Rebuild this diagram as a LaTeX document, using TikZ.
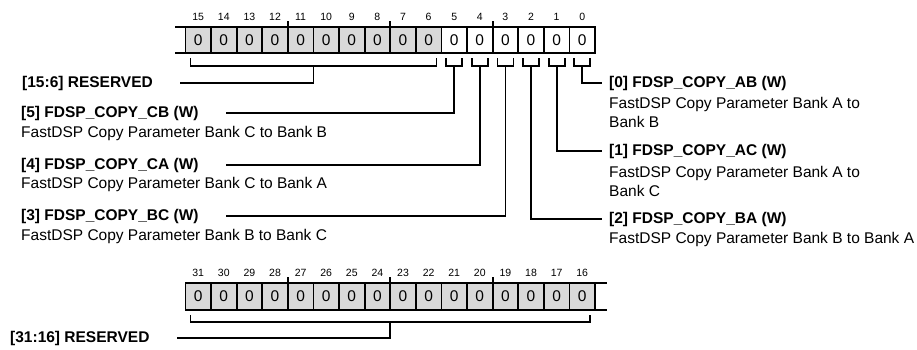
\documentclass[tikz,border=0pt]{standalone}
\usepackage{fontspec}
\setmainfont{Liberation Sans}
\usetikzlibrary{positioning}
\definecolor{resgray}{HTML}{D9D9D9}
\tikzset{
	cell/.style={draw,line width=1.8pt,minimum width=25.6pt,minimum height=26.5pt,inner sep=0pt,outer sep=0pt,font=\fontsize{15.5}{18}\selectfont},
	bitno/.style={inner sep=0pt,font=\fontsize{10.5}{12}\selectfont},
	field/.style={inner sep=0pt,anchor=west,font=\bfseries\fontsize{15.5}{18}\selectfont},
	desc/.style={inner sep=0pt,anchor=base west,align=left,font=\fontsize{15.5}{19}\selectfont},
	wire/.style={line width=1.8pt},
}
\begin{document}
\begin{tikzpicture}[x=1pt,y=-1pt]
				\useasboundingbox (0,0) rectangle (917,350);
				% Register bits 15:0
				\foreach \b in {0,...,15}{
					\pgfmathsetmacro\cx{595-25.6*\b-12.8}
					\node[bitno] (tn\b) at (\cx,17) {\b};
				}
				\foreach \b in {6,...,15}{
					\node[cell,fill=resgray] (t\b) at (595-25.6*\b-12.8,40) {0};
				}
				\foreach \b in {0,...,5}{
					\node[cell,fill=white] (t\b) at (595-25.6*\b-12.8,40) {0};
				}
				\foreach \b in {12,8,4}{
					\draw[wire] (t\b.north east) -- ++(0,-6);
				}
				\draw[wire] (t15.north west) -- ++(-10,0);
				\draw[wire] (t15.south west) -- ++(-10,0);
				% Register bits 31:16
				\foreach \b in {16,...,31}{
					\pgfmathsetmacro\cx{595-25.6*(\b-16)-12.8}
					\node[bitno] (bn\b) at (\cx,273) {\b};
					\node[cell,fill=resgray] (b\b) at (\cx,296.5) {0};
				}
				\foreach \b in {28,24,20}{
					\draw[wire] (b\b.north east) -- ++(0,-6);
				}
				\draw[wire] (b16.north east) -- ++(12,0);
				\draw[wire] (b16.south east) -- ++(12,0);
				% Brackets
				\draw[wire] ([xshift=5pt,yshift=-5pt]t15.south west) |- ([xshift=-5pt,yshift=-12.5pt]t6.south east) coordinate[pos=0.75] (r1) -- ([xshift=-5pt,yshift=-5pt]t6.south east);
				\foreach \b in {0,...,5}{
					\draw[wire] ([xshift=-8pt,yshift=-5pt]t\b.south) |- ([xshift=8pt,yshift=-12.5pt]t\b.south) coordinate[pos=0.75] (s\b) -- ([xshift=8pt,yshift=-5pt]t\b.south);
				}
				\draw[wire] ([xshift=5pt,yshift=-5pt]b31.south west) |- ([xshift=-5pt,yshift=-12.5pt]b16.south east) coordinate[pos=0.75] (r2) -- ([xshift=-5pt,yshift=-5pt]b16.south east);
				% Fields, left
				\node[field] (res1) at (22,83) {[15:6] RESERVED};
				\node[field] (f5) at (21,113) {[5] FDSP\_COPY\_CB (W)};
				\node[desc] (d5) at (21,137.5) {FastDSP Copy Parameter Bank C to Bank B};
				\node[field] (f4) at (21,165) {[4] FDSP\_COPY\_CA (W)};
				\node[desc] (d4) at (21,188.5) {FastDSP Copy Parameter Bank C to Bank A};
				\node[field] (f3) at (21,216) {[3] FDSP\_COPY\_BC (W)};
				\node[desc] (d3) at (21,240.5) {FastDSP Copy Parameter Bank B to Bank C};
				\node[field] (res2) at (10,338) {[31:16] RESERVED};
				% Fields, right
				\node[field] (f0) at (609,83) {[0] FDSP\_COPY\_AB (W)};
				\node[desc] (d0) at (609,127.5) {FastDSP Copy Parameter Bank A to\\Bank B};
				\node[field] (f1) at (609,151) {[1] FDSP\_COPY\_AC (W)};
				\node[desc] (d1) at (609,196) {FastDSP Copy Parameter Bank A to\\Bank C};
				\node[field] (f2) at (609,219) {[2] FDSP\_COPY\_BA (W)};
				\node[desc] (d2) at (609,243.5) {FastDSP Copy Parameter Bank B to Bank A};
				% Connectors
				\foreach \s/\f in {r1/res1,s5/f5,s4/f4,s3/f3,r2/res2}{
					\draw[wire,shorten >=27pt] (\s) |- (\f.east);
				}
				\foreach \s/\f in {s0/f0,s1/f1,s2/f2}{
					\draw[wire,shorten >=7pt] (\s) |- (\f.west);
				}
			\end{tikzpicture}
\end{document}
